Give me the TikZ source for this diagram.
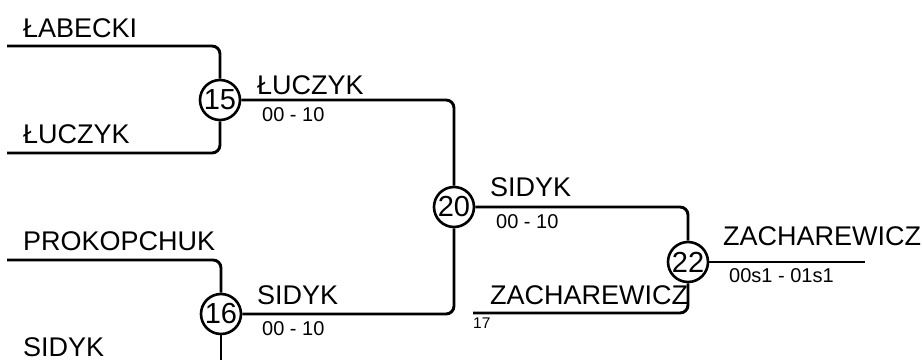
\documentclass[tikz,border=0pt]{standalone}
\usepackage{fontspec}
\setmainfont{Liberation Sans}
\newcommand{\namefont}{\fontsize{27}{30}\selectfont}
\newcommand{\scorefont}{\fontsize{20}{22}\selectfont}
\newcommand{\seedfont}{\fontsize{15.5}{17}\selectfont}

\begin{document}
\begin{tikzpicture}[x=1pt,y=-1pt,
    wire/.style={line width=2.9pt, rounded corners=8pt},
    game/.style={circle, draw, line width=2.6pt, fill=white, minimum size=40pt, inner sep=0pt, font=\fontsize{29}{29}\selectfont},
    player/.style={anchor=base west, inner sep=0pt, font=\namefont},
    score/.style={anchor=base west, inner sep=0pt, font=\scorefont}]
      \useasboundingbox (0,0) rectangle (922,360);

      % games
      \node[game] (m15) at (220,100) {15};
      \node[game] (m16) at (221,314) {16};
      \node[game] (m20) at (454,207) {20};
      \node[game] (m22) at (688,262) {22};

      % free ends
      \coordinate (labecki) at (7,46);
      \coordinate (luczyk) at (7,153);
      \coordinate (prokop) at (7,260);
      \coordinate (sidyk) at (221,360);
      \coordinate (zachar) at (473,313);
      \coordinate (winner) at (865,262);

      % bracket lines
      \draw[wire] (labecki) -| (m15);
      \draw[wire] (luczyk) -| (m15);
      \draw[wire] (prokop) -| (m16);
      \draw[wire] (m16) -- (sidyk);
      \draw[wire] (m15) -| (m20);
      \draw[wire] (m16) -| (m20);
      \draw[wire] (m20) -| (m22);
      \draw[wire] (zachar) -| (m22);
      \draw[wire] (m22) -- (winner);

      % names
      \node[player] (n1) at (23,37) {ŁABECKI};
      \node[player] (n2) at (23,143) {ŁUCZYK};
      \node[player] (n3) at (23,250) {PROKOPCHUK};
      \node[player] (n4) at (23,356) {SIDYK};
      \node[player] (w15) at (257,94) {ŁUCZYK};
      \node[player] (w16) at (257,304) {SIDYK};
      \node[player] (w20) at (490,196) {SIDYK};
      \node[player] (n5) at (490,304) {ZACHAREWICZ};
      \node[player] (w22) at (723,245) {ZACHAREWICZ};

      % scores
      \node[score] (s15) at (262,121.5) {00 - 10};
      \node[score] (s16) at (262,335) {00 - 10};
      \node[score] (s20) at (496,228.5) {00 - 10};
      \node[score] (s22) at (729,282) {00s1 - 01s1};
      \node[anchor=base west, inner sep=0pt, font=\seedfont] (seed) at (473,328) {17};
\end{tikzpicture}
\end{document}
